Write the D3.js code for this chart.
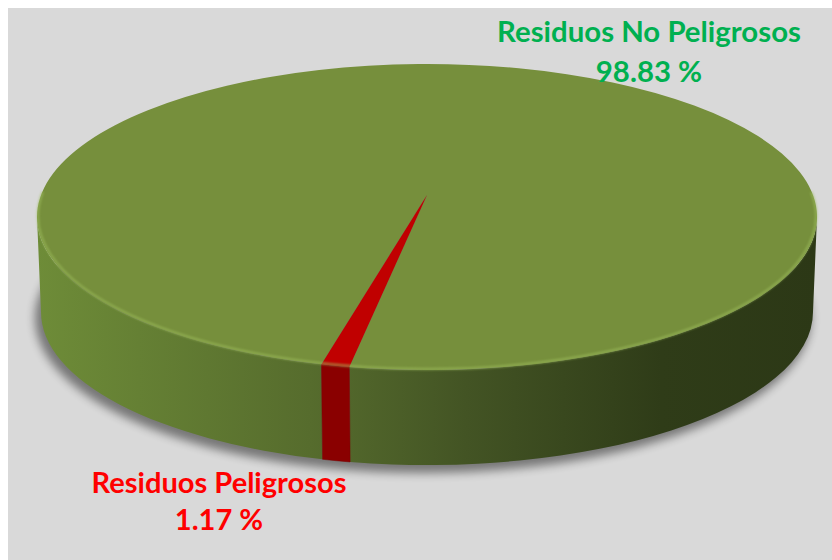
<!DOCTYPE html>
<html>
<head>
<meta charset="utf-8">
<script src="https://cdn.jsdelivr.net/npm/d3@7"></script>
<style>
  html, body { margin: 0; padding: 0; background: #fff; }
  svg { display: block; }
</style>
</head>
<body>
<div id="chart"></div>
<script>
// data
const categories = ["Residuos No Peligrosos", "Residuos Peligrosos"];
const values = [98.83, 1.17];
const valueLabels = ["98.83 %", "1.17 %"];

const w = 832, h = 560;
const cx = 427, cy = 217;      // centre of the top ellipse
const rx = 390, ry = 153;      // top ellipse radii
const rx2 = 386;               // bottom ellipse a bit narrower
const depth = 95;
const apex = [427, 195];       // projected centre of the disc

const topColors = ["#768f3c", "#c00000"];
const sideColors = [["#6d8b37", "#2d3917"], ["#8a0000", "#7a0000"]];
const labelColors = ["#00b050", "#ff0000"];

const svg = d3.select("#chart").append("svg")
  .attr("width", w).attr("height", h);

const defs = svg.append("defs");
defs.append("filter").attr("id", "blur").attr("x", "-20%").attr("y", "-20%")
  .attr("width", "140%").attr("height", "140%")
  .append("feGaussianBlur").attr("stdDeviation", 5);
defs.append("filter").attr("id", "soft")
  .append("feGaussianBlur").attr("stdDeviation", 1.2);

const grad = defs.append("linearGradient").attr("id", "side0")
  .attr("gradientUnits", "userSpaceOnUse")
  .attr("x1", cx - rx).attr("x2", cx + rx).attr("y1", 0).attr("y2", 0);
grad.append("stop").attr("offset", "0%").attr("stop-color", "#6e8c38");
grad.append("stop").attr("offset", "35%").attr("stop-color", "#566c2d");
grad.append("stop").attr("offset", "55%").attr("stop-color", "#435424");
grad.append("stop").attr("offset", "80%").attr("stop-color", "#2f3c18");
grad.append("stop").attr("offset", "100%").attr("stop-color", "#2c3816");

svg.append("rect").attr("x", 8).attr("y", 8).attr("width", w - 8).attr("height", h - 8)
  .attr("fill", "#d9d9d9");

const pie = d3.pie().sort(null)
  .startAngle(195.7 * Math.PI / 180)
  .endAngle(195.7 * Math.PI / 180 + 2 * Math.PI);
const arcs = pie(values);

function pt(a, r, dy) {
  return [cx + r * Math.sin(a), cy - ry * Math.cos(a) + (dy || 0)];
}

// shadow
svg.append("ellipse")
  .attr("cx", cx - 4).attr("cy", cy + depth + 6)
  .attr("rx", rx2 + 2).attr("ry", ry + 2)
  .attr("fill", "#000").attr("opacity", 0.45)
  .attr("filter", "url(#blur)");

// side walls (front half only)
function sidePieces(d) {
  const out = [];
  for (let k = -1; k <= 2; k++) {
    const f0 = Math.PI / 2 + 2 * Math.PI * k, f1 = 3 * Math.PI / 2 + 2 * Math.PI * k;
    const a0 = Math.max(d.startAngle, f0), a1 = Math.min(d.endAngle, f1);
    if (a1 > a0) out.push([a0, a1, d.index]);
  }
  return out;
}
const pieces = arcs.flatMap(sidePieces);

svg.append("g").selectAll("path")
  .data(pieces)
  .join("path")
  .attr("d", p => {
    const [a0, a1] = p;
    const t0 = pt(a0, rx), t1 = pt(a1, rx);
    const b0 = pt(a0, rx2, depth), b1 = pt(a1, rx2, depth);
    return `M${t0}A${rx},${ry} 0 0 1 ${t1}L${b1}A${rx2},${ry} 0 0 0 ${b0}Z`;
  })
  .attr("fill", p => p[2] === 0 ? "url(#side0)" : sideColors[1][0])
  .attr("stroke", p => p[2] === 0 ? "none" : sideColors[1][1])
  .attr("stroke-width", 0.5);

// top faces
svg.append("g").selectAll("path")
  .data(arcs)
  .join("path")
  .attr("d", d => {
    const p0 = pt(d.startAngle, rx), p1 = pt(d.endAngle, rx);
    const large = (d.endAngle - d.startAngle) > Math.PI ? 1 : 0;
    return `M${apex}L${p0}A${rx},${ry} 0 ${large} 1 ${p1}Z`;
  })
  .attr("fill", (d, i) => topColors[i]);

// light bevel along the front rim
svg.append("path")
  .attr("d", () => {
    const p0 = pt(Math.PI * 0.45, rx - 1, -1), p1 = pt(Math.PI * 1.55, rx - 1, -1);
    return `M${p0}A${rx - 1},${ry} 0 1 1 ${p1}`;
  })
  .attr("fill", "none").attr("stroke", "#9cbc5c")
  .attr("stroke-width", 2.5).attr("opacity", 0.6)
  .attr("filter", "url(#soft)");

// labels
const labelPos = [[649, 42, 82], [219, 493, 530]];
const fit = [304, 255];
const lg = svg.append("g").attr("font-family", "Lato, 'Open Sans', sans-serif")
  .attr("font-weight", "bold").attr("text-anchor", "middle");

categories.forEach((c, i) => {
  const t = lg.append("text").attr("x", labelPos[i][0]).attr("y", labelPos[i][1])
    .attr("fill", labelColors[i]).attr("font-size", 26).text(c);
  const len = t.node().getComputedTextLength();
  const fs = 26 * fit[i] / len;
  t.attr("font-size", fs);
  lg.append("text").attr("x", labelPos[i][0]).attr("y", labelPos[i][2])
    .attr("fill", labelColors[i]).attr("font-size", fs).text(valueLabels[i]);
});
</script>
</body>
</html>
